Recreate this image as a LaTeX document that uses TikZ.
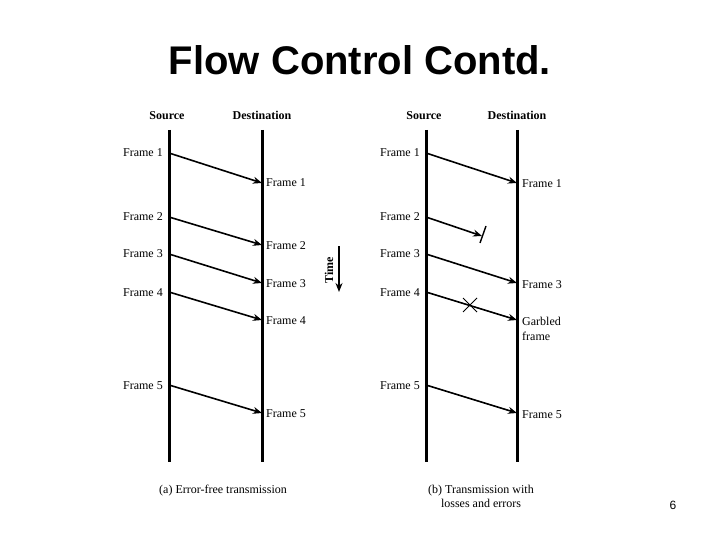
\documentclass[tikz,border=0pt]{standalone}
\usepackage{fontspec}
\setmainfont{Liberation Serif}
\newfontfamily\titlefont{Liberation Sans}
\usetikzlibrary{arrows.meta}

\tikzset{
  lifeline/.style={line width=3pt},
  msg/.style={line width=1.6pt, -{Stealth[length=9pt,width=7pt]}},
  lbl/.style={font=\fontsize{12}{14}\selectfont, inner sep=0pt},
  hdr/.style={font=\fontsize{12}{14}\selectfont\bfseries, inner sep=0pt, anchor=base}
}

\begin{document}
\begin{tikzpicture}[
  x=1pt,
  y=-1pt
]
\useasboundingbox (0,0) rectangle (720,540);

\node[font=\titlefont\bfseries\fontsize{40}{44}\selectfont, inner sep=0pt] (title) at (360,60) {Flow Control Contd.};

% (a) error-free transmission
\node[hdr] (srcA) at (167,120) {Source};
\node[hdr] (dstA) at (262,120) {Destination};
\coordinate (srcAtop) at (169,130);
\coordinate (srcAbot) at (169,462);
\coordinate (dstAtop) at (262,130);
\coordinate (dstAbot) at (262,462);
\draw[lifeline] (srcAtop) -- (srcAbot);
\draw[lifeline] (dstAtop) -- (dstAbot);
\foreach \i/\ys/\yd in {1/153/183, 2/217/245, 3/254/283, 4/292/320, 5/385/413} {
  \coordinate (as\i) at (169,\ys);
  \coordinate (ad\i) at (262,\yd);
  \node[lbl, anchor=base east] (fas\i) at (163,\ys+4) {Frame \i};
  \node[lbl, anchor=base west] (fad\i) at (266,\yd+4) {Frame \i};
  \draw[msg] (as\i) -- (ad\i);
}
\node[lbl, anchor=base west] (capA) at (159,493) {(a) Error-free transmission};

% time axis
\coordinate (t0) at (339,246);
\coordinate (t1) at (339,292);
\draw[line width=1.6pt, -{Stealth[length=9pt,width=7pt]}] (t0) -- (t1);
\node[hdr, rotate=90, anchor=center] (time) at (329,270) {Time};

% (b) transmission with losses and errors
\node[hdr] (srcB) at (424,120) {Source};
\node[hdr] (dstB) at (517,120) {Destination};
\coordinate (srcBtop) at (426,130);
\coordinate (srcBbot) at (426,462);
\coordinate (dstBtop) at (517,130);
\coordinate (dstBbot) at (517,462);
\draw[lifeline] (srcBtop) -- (srcBbot);
\draw[lifeline] (dstBtop) -- (dstBbot);
\foreach \i/\ys in {1/153, 2/217, 3/254, 4/292, 5/385} {
  \coordinate (bs\i) at (426,\ys);
  \node[lbl, anchor=base east] (fbs\i) at (420,\ys+4) {Frame \i};
}
\coordinate (bd1) at (517,183);
\coordinate (bd2) at (482,236);
\coordinate (bd3) at (517,283);
\coordinate (bd4) at (517,320);
\coordinate (bd5) at (517,413);
\draw[msg] (bs1) -- (bd1);
\draw[msg] (bs2) -- (bd2);
\draw[msg] (bs3) -- (bd3);
\draw[msg] (bs4) -- (bd4);
\draw[msg] (bs5) -- (bd5);
\node[lbl, anchor=base west] (fbd1) at (522,188) {Frame 1};
\node[lbl, anchor=base west] (fbd3) at (522,288) {Frame 3};
\node[lbl, anchor=base west] (fbd4a) at (522,325) {Garbled};
\node[lbl, anchor=base west] (fbd4b) at (522,340) {frame};
\node[lbl, anchor=base west] (fbd5) at (522,418) {Frame 5};

% lost frame and error mark
\coordinate (lostT) at (486,226);
\coordinate (lostB) at (480,243);
\draw[line width=1.4pt] (lostT) -- (lostB);
\coordinate (errX) at (470,305);
\draw[line width=0.8pt] ([shift={(-7,-7)}]errX) -- ([shift={(7,7)}]errX);
\draw[line width=0.8pt] ([shift={(-7,7)}]errX) -- ([shift={(7,-7)}]errX);

\node[lbl, anchor=base] (capB1) at (481,493) {(b) Transmission with};
\node[lbl, anchor=base] (capB2) at (481,507) {losses and errors};

\node[font=\titlefont\fontsize{12}{14}\selectfont, inner sep=0pt] (page) at (673,505) {6};
\end{tikzpicture}
\end{document}
